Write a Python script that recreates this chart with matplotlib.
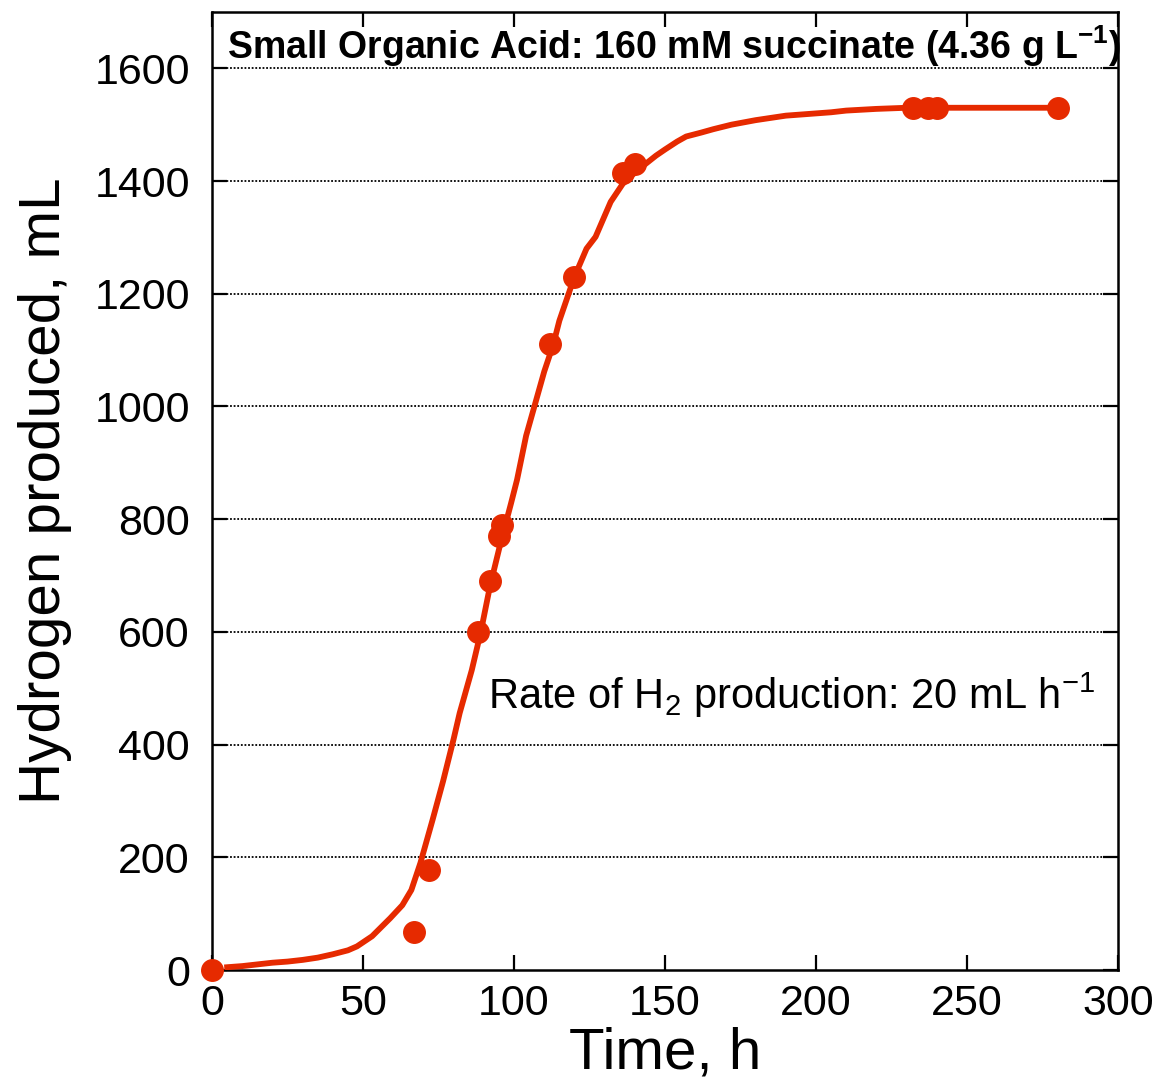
import matplotlib
matplotlib.use("Agg")
import matplotlib.pyplot as plt

plt.rcParams['font.family'] = ['Liberation Sans', 'DejaVu Sans']
plt.rcParams['mathtext.fontset'] = 'custom'
plt.rcParams['mathtext.rm'] = 'Liberation Sans'
plt.rcParams['mathtext.it'] = 'Liberation Sans'
plt.rcParams['mathtext.bf'] = 'Liberation Sans:bold'

# measured points
time_h = [0, 67, 72, 88, 92, 95, 96, 112, 120, 136, 140, 232, 237, 240, 280]
h2_ml = [0, 68, 177, 600, 690, 770, 790, 1110, 1230, 1415, 1430, 1530, 1530, 1530, 1530]

# fitted curve
fit_t = [5, 10, 15, 20, 25, 30, 35, 40, 45, 48, 53, 59, 63, 66, 69, 73, 76.5, 80, 82,
         86, 89, 92, 95.5, 99, 101, 104, 107, 110, 113, 115, 120, 124, 127, 132, 136,
         139, 143, 147, 150, 154, 157, 162, 166, 172, 180, 185, 190, 195, 200, 205,
         210, 220, 230, 240, 260, 280]
fit_v = [5, 7, 10, 13, 15, 18, 22, 28, 35, 42, 60, 92, 115, 142, 190, 266, 335, 410, 456,
         532, 600, 680, 757, 828, 870, 948, 1005, 1062, 1110, 1152, 1230, 1280, 1301, 1363,
         1395, 1410, 1428, 1445, 1456, 1470, 1479, 1486, 1492, 1500, 1508, 1512, 1516,
         1518, 1520, 1522, 1525, 1528, 1530, 1530, 1530, 1530]

red = '#e62a00'

fig = plt.figure(figsize=(11.6, 10.87), dpi=100)
ax = fig.add_axes([0.1828, 0.1076, 0.781, 0.8814])

ax.plot(fit_t, fit_v, color=red, lw=4.2, zorder=3)
ax.plot(time_h, h2_ml, 'o', color=red, ms=15.5, zorder=4, clip_on=False)

ax.set_xlim(0, 300)
ax.set_ylim(0, 1700)
ax.set_xticks(range(0, 301, 50))
ax.set_yticks(range(0, 1601, 200))

for y in range(200, 1601, 200):
    ax.axhline(y, color='black', lw=1.3, ls=(0, (1, 1)), zorder=1)

for s in ax.spines.values():
    s.set_linewidth(1.8)
ax.tick_params(direction='in', length=11, width=1.6, top=True, right=True,
               labelsize=31)
ax.tick_params(axis='y', pad=16)
ax.tick_params(axis='x', pad=10)

ax.set_xlabel('Time, h', fontsize=42, labelpad=2)
ax.set_ylabel('Hydrogen produced, mL', fontsize=42, labelpad=16)

ax.text(0.51, 0.964, r'Small Organic Acid: 160 mM succinate (4.36 g L$^{\mathbf{-1}}$)',
        transform=ax.transAxes, ha='center', va='center', fontsize=27,
        fontweight='bold')
ax.text(91.4, 464, r'Rate of H$_2$ production: 20 mL h$^{-1}$', fontsize=30,
        ha='left', va='baseline')

fig.savefig('out.png', dpi=100)
